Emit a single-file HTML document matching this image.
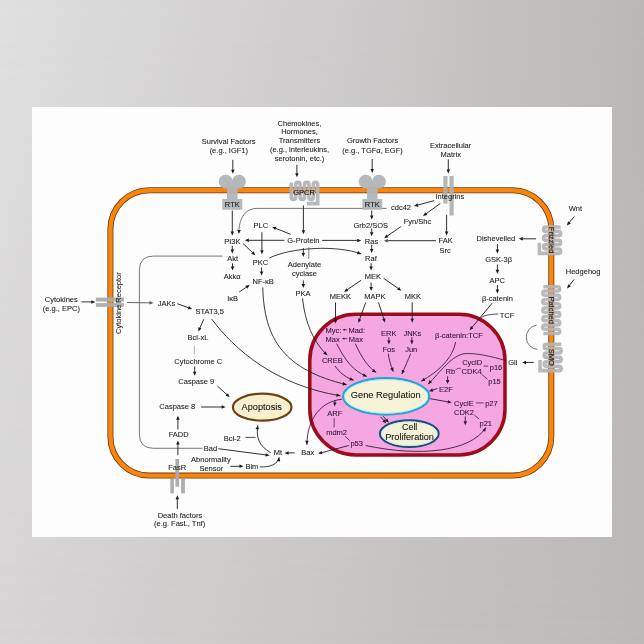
<!DOCTYPE html>
<html><head><meta charset="utf-8">
<style>
html,body{margin:0;padding:0;width:644px;height:644px;overflow:hidden;}
body{background:#d0cfcf;}
svg{position:absolute;left:0;top:0;will-change:transform;}
text{font-family:"Liberation Sans",sans-serif;stroke-width:0.08px;paint-order:fill;}
</style></head><body>
<svg width="644" height="644" viewBox="0 0 644 644">
<defs><linearGradient id="gtop" x1="0" y1="0" x2="1" y2="0"><stop offset="0" stop-color="#e0dfdf"/><stop offset="0.5" stop-color="#cecccc"/><stop offset="1" stop-color="#bab7b6"/></linearGradient><linearGradient id="gbot" x1="0" y1="0" x2="1" y2="0"><stop offset="0" stop-color="#d7d5d5"/><stop offset="0.5" stop-color="#c9c7c6"/><stop offset="1" stop-color="#bcb9b8"/></linearGradient><linearGradient id="gm" x1="0" y1="0" x2="0" y2="1"><stop offset="0" stop-color="#fff"/><stop offset="1" stop-color="#000"/></linearGradient><mask id="mk"><rect x="0" y="0" width="644" height="644" fill="url(#gm)"/></mask></defs>
<rect x="0" y="0" width="644" height="644" fill="url(#gbot)"/>
<rect x="0" y="0" width="644" height="644" fill="url(#gtop)" mask="url(#mk)"/>
<rect x="32" y="107" width="580" height="430" fill="#fdfdfd"/>
<rect x="110.4" y="190.3" width="440.9" height="285.3" rx="39" ry="39" fill="none" stroke="#6a3a10" stroke-width="6.0"/>
<rect x="110.4" y="190.3" width="440.9" height="285.3" rx="39" ry="39" fill="none" stroke="#f9840e" stroke-width="4.4"/>
<path d="M386.6,208.4 L257,208.4 C245,208.4 240,218 238.9,229.5" stroke="#555" stroke-width="0.8" fill="none"/>
<rect x="309.8" y="314.3" width="195.2" height="140.7" rx="46" ry="46" fill="#f4a7e0" stroke="#9c0c1c" stroke-width="3.5"/>
<g fill="#b3b6b9" opacity="0.95"><path d="M225.5,174.8 a6.8,6.8 0 1,0 0.001,0 Z M239.10000000000002,174.8 a6.8,6.8 0 1,0 0.001,0 Z"/><path d="M225.5,174.8 A6.8,6.8 0 0 0 227.0,186 L227.0,199.1 L222.3,199.1 L222.3,209.7 L242.3,209.7 L242.3,199.1 L237.60000000000002,199.1 L237.60000000000002,186 A6.8,6.8 0 0 0 239.10000000000002,174.8 A6.8,6.8 0 0 0 232.3,181 A6.8,6.8 0 0 0 225.5,174.8 Z"/></g>
<g fill="#b3b6b9" opacity="0.95"><path d="M365.5,174.8 a6.8,6.8 0 1,0 0.001,0 Z M379.1,174.8 a6.8,6.8 0 1,0 0.001,0 Z"/><path d="M365.5,174.8 A6.8,6.8 0 0 0 367.0,186 L367.0,199.1 L362.3,199.1 L362.3,209.7 L382.3,209.7 L382.3,199.1 L377.6,199.1 L377.6,186 A6.8,6.8 0 0 0 379.1,174.8 A6.8,6.8 0 0 0 372.3,181 A6.8,6.8 0 0 0 365.5,174.8 Z"/></g>
<g transform=""><path d="M291.30,182.40 L291.30,197.20 A2.2,2.2 0 0 0 295.70,197.20 L295.70,184.60 A2.2,2.2 0 0 1 300.10,184.60 L300.10,197.20 A2.2,2.2 0 0 0 304.50,197.20 L304.50,184.60 A2.2,2.2 0 0 1 308.90,184.60 L308.90,197.20 A2.2,2.2 0 0 0 313.30,197.20 L313.30,184.60 A2.2,2.2 0 0 1 317.70,184.60 L317.70,197.20 L317.70,203.6 L307,203.6" stroke="#b2b4b7" stroke-width="3.6" fill="none" opacity="0.93"/></g>
<g transform="translate(550.0,240.2) rotate(90) translate(-304.5,-193.0)"><path d="M291.30,182.40 L291.30,197.20 A2.2,2.2 0 0 0 295.70,197.20 L295.70,184.60 A2.2,2.2 0 0 1 300.10,184.60 L300.10,197.20 A2.2,2.2 0 0 0 304.50,197.20 L304.50,184.60 A2.2,2.2 0 0 1 308.90,184.60 L308.90,197.20 A2.2,2.2 0 0 0 313.30,197.20 L313.30,184.60 A2.2,2.2 0 0 1 317.70,184.60 L317.70,197.20 L317.70,203.6 L307,203.6" stroke="#b2b4b7" stroke-width="3.6" fill="none" opacity="0.93"/></g>
<text x="0" y="0" font-size="7.5" fill="#222" stroke="#222" text-anchor="middle" transform="translate(551.5,240.2) rotate(90) translate(0,2.7)">Frizzled</text>
<g transform="translate(550.6,357.4) rotate(90) translate(-304.5,-193.0)"><path d="M291.30,182.40 L291.30,197.20 A2.2,2.2 0 0 0 295.70,197.20 L295.70,184.60 A2.2,2.2 0 0 1 300.10,184.60 L300.10,197.20 A2.2,2.2 0 0 0 304.50,197.20 L304.50,184.60 A2.2,2.2 0 0 1 308.90,184.60 L308.90,197.20 A2.2,2.2 0 0 0 313.30,197.20 L313.30,184.60 A2.2,2.2 0 0 1 317.70,184.60 L317.70,197.20 L317.70,203.6 L307,203.6" stroke="#b2b4b7" stroke-width="3.6" fill="none" opacity="0.93"/></g>
<text x="0" y="0" font-size="7.5" fill="#222" stroke="#222" text-anchor="middle" transform="translate(552.1,357.4) rotate(90) translate(0,2.7)">SMO</text>
<path d="M543.40,286.80 L557.60,286.80 A2.12,2.12 0 0 1 557.60,291.05 L544.90,291.05 A2.12,2.12 0 0 0 544.90,295.30 L557.60,295.30 A2.12,2.12 0 0 1 557.60,299.55 L544.90,299.55 A2.12,2.12 0 0 0 544.90,303.80 L557.60,303.80 A2.12,2.12 0 0 1 557.60,308.05 L544.90,308.05 A2.12,2.12 0 0 0 544.90,312.30 L557.60,312.30 A2.12,2.12 0 0 1 557.60,316.55 L544.90,316.55 A2.12,2.12 0 0 0 544.90,320.80 L557.60,320.80 A2.12,2.12 0 0 1 557.60,325.05 L544.90,325.05 A2.12,2.12 0 0 0 544.90,329.30 L557.60,329.30 A2.12,2.12 0 0 1 557.60,333.55 L544.90,333.55 L543.40,333.55" stroke="#b2b4b7" stroke-width="3.4" fill="none" opacity="0.92"/>
<text x="0" y="0" font-size="7.5" fill="#222" stroke="#222" text-anchor="middle" transform="translate(551.4,310.2) rotate(90) translate(0,2.7)">Patched</text>
<g fill="#b0b0b0" opacity="0.92"><rect x="443.3" y="176" width="4.2" height="27.6"/><rect x="449.5" y="176" width="4.2" height="39.5"/></g>
<g fill="#acacac" opacity="0.95"><rect x="95.9" y="297.6" width="28" height="4"/><rect x="95.9" y="303.1" width="28" height="3.8"/></g>
<g fill="#aaaaaa" opacity="0.95"><rect x="175.4" y="459" width="3.7" height="27.7"/><rect x="170.3" y="478.6" width="3.6" height="14.8"/><rect x="181.1" y="478.6" width="3.8" height="14.8"/></g>
<ellipse cx="386.2" cy="396.4" rx="43.1" ry="18.3" fill="#f6f3d8" stroke="#2aa2d4" stroke-width="2.2"/>
<ellipse cx="386.2" cy="396.4" rx="41.6" ry="16.8" fill="none" stroke="#a8e6f2" stroke-width="0.9"/>
<ellipse cx="409.3" cy="433.7" rx="29.3" ry="13.3" fill="#f4f2d6" stroke="#1b4c7a" stroke-width="2.1"/>
<ellipse cx="409.3" cy="433.7" rx="27.9" ry="11.9" fill="none" stroke="#c4ecee" stroke-width="0.9"/>
<ellipse cx="262.2" cy="407.2" rx="29.3" ry="13.5" fill="#f6f0cf" stroke="#6b4416" stroke-width="2.2"/>
<path d="M232.80,159.80 L232.80,170.30" stroke="#1a1a1a" stroke-width="0.9" fill="none"/>
<path d="M232.80,173.80 L231.05,169.80 L234.55,169.80 Z" fill="#1a1a1a"/>
<path d="M296.90,164.70 L296.90,173.70" stroke="#1a1a1a" stroke-width="0.9" fill="none"/>
<path d="M296.90,177.20 L295.15,173.20 L298.65,173.20 Z" fill="#1a1a1a"/>
<path d="M372.20,159.00 L372.20,169.50" stroke="#1a1a1a" stroke-width="0.9" fill="none"/>
<path d="M372.20,173.00 L370.45,169.00 L373.95,169.00 Z" fill="#1a1a1a"/>
<path d="M448.30,159.30 L448.30,170.00" stroke="#1a1a1a" stroke-width="0.9" fill="none"/>
<path d="M448.30,173.50 L446.55,169.50 L450.05,169.50 Z" fill="#1a1a1a"/>
<path d="M232.30,210.50 L232.30,232.00" stroke="#1a1a1a" stroke-width="0.9" fill="none"/>
<path d="M232.30,235.50 L230.55,231.50 L234.05,231.50 Z" fill="#1a1a1a"/>
<path d="M238.80,233.90 L237.31,229.80 L240.80,230.02 Z" fill="#1a1a1a"/>
<path d="M290.60,234.30 L275.35,228.20" stroke="#1a1a1a" stroke-width="0.9" fill="none"/>
<path d="M272.10,226.90 L276.46,226.76 L275.16,230.01 Z" fill="#1a1a1a"/>
<path d="M284.30,240.30 L248.30,240.30" stroke="#1a1a1a" stroke-width="0.9" fill="none"/>
<path d="M244.80,240.30 L248.80,238.55 L248.80,242.05 Z" fill="#1a1a1a"/>
<path d="M261.90,232.20 L261.90,250.70" stroke="#1a1a1a" stroke-width="0.9" fill="none"/>
<path d="M261.90,254.20 L260.15,250.20 L263.65,250.20 Z" fill="#1a1a1a"/>
<path d="M242.90,243.40 L252.76,252.79" stroke="#1a1a1a" stroke-width="0.9" fill="none"/>
<path d="M255.30,255.20 L251.20,253.71 L253.61,251.17 Z" fill="#1a1a1a"/>
<path d="M232.30,245.90 L232.30,250.10" stroke="#1a1a1a" stroke-width="0.9" fill="none"/>
<path d="M232.30,253.60 L230.55,249.60 L234.05,249.60 Z" fill="#1a1a1a"/>
<path d="M222.7,256.1 L153.4,256.1 Q139.4,256.1 139.4,270.1 L139.4,434.3 Q139.4,448.3 153.4,448.3 L202.5,448.3" stroke="#555" stroke-width="0.8" fill="none" />
<path d="M232.50,263.30 L232.50,267.00" stroke="#1a1a1a" stroke-width="0.9" fill="none"/>
<path d="M232.50,270.50 L230.75,266.50 L234.25,266.50 Z" fill="#1a1a1a"/>
<path d="M261.60,267.60 L261.60,272.10" stroke="#1a1a1a" stroke-width="0.9" fill="none"/>
<path d="M261.60,275.60 L259.85,271.60 L263.35,271.60 Z" fill="#1a1a1a"/>
<path d="M239.20,292.00 L246.70,286.95" stroke="#1a1a1a" stroke-width="0.9" fill="none"/>
<path d="M249.60,285.00 L247.26,288.69 L245.30,285.78 Z" fill="#1a1a1a"/>
<path d="M303.40,205.40 L303.40,230.70" stroke="#1a1a1a" stroke-width="0.9" fill="none"/>
<path d="M303.40,234.20 L301.65,230.20 L305.15,230.20 Z" fill="#1a1a1a"/>
<path d="M322.20,240.40 L357.70,240.40" stroke="#1a1a1a" stroke-width="0.9" fill="none"/>
<path d="M361.20,240.40 L357.20,242.15 L357.20,238.65 Z" fill="#1a1a1a"/>
<path d="M303.30,248.00 L303.30,253.40" stroke="#1a1a1a" stroke-width="0.9" fill="none"/>
<path d="M303.30,256.90 L301.55,252.90 L305.05,252.90 Z" fill="#1a1a1a"/>
<path d="M308.8,247.4 L308.8,258.8" stroke="#777" stroke-width="0.9" fill="none" />
<path d="M269.4,258.0 C292,247 338,245 361.2,254.0" stroke="#1a1a1a" stroke-width="0.85" fill="none"/>
<path d="M361.20,254.00 L356.84,254.18 L358.10,250.92 Z" fill="#1a1a1a"/>
<path d="M303.30,280.30 L303.30,284.50" stroke="#1a1a1a" stroke-width="0.9" fill="none"/>
<path d="M303.30,288.00 L301.55,284.00 L305.05,284.00 Z" fill="#1a1a1a"/>
<path d="M302.5,298.3 C305,322 313,342 327.3,355.2" stroke="#1a1a1a" stroke-width="0.85" fill="none"/>
<path d="M327.30,355.20 L323.17,353.77 L325.55,351.20 Z" fill="#1a1a1a"/>
<path d="M371.70,210.50 L371.70,215.90" stroke="#1a1a1a" stroke-width="0.9" fill="none"/>
<path d="M371.70,219.40 L369.95,215.40 L373.45,215.40 Z" fill="#1a1a1a"/>
<path d="M371.70,228.50 L371.70,232.70" stroke="#1a1a1a" stroke-width="0.9" fill="none"/>
<path d="M371.70,236.20 L369.95,232.20 L373.45,232.20 Z" fill="#1a1a1a"/>
<path d="M400.90,226.60 L387.07,236.20" stroke="#1a1a1a" stroke-width="0.9" fill="none"/>
<path d="M384.20,238.20 L386.49,234.48 L388.48,237.36 Z" fill="#1a1a1a"/>
<path d="M436.00,240.70 L387.30,240.70" stroke="#555" stroke-width="1.3" fill="none"/>
<path d="M383.80,240.70 L387.80,238.95 L387.80,242.45 Z" fill="#555"/>
<path d="M371.70,244.70 L371.70,249.40" stroke="#1a1a1a" stroke-width="0.9" fill="none"/>
<path d="M371.70,252.90 L369.95,248.90 L373.45,248.90 Z" fill="#1a1a1a"/>
<path d="M371.10,263.20 L371.10,266.90" stroke="#1a1a1a" stroke-width="0.9" fill="none"/>
<path d="M371.10,270.40 L369.35,266.40 L372.85,266.40 Z" fill="#1a1a1a"/>
<path d="M361.10,280.30 L346.90,289.94" stroke="#1a1a1a" stroke-width="0.9" fill="none"/>
<path d="M344.00,291.90 L346.33,288.21 L348.29,291.10 Z" fill="#1a1a1a"/>
<path d="M371.10,282.60 L371.10,287.40" stroke="#1a1a1a" stroke-width="0.9" fill="none"/>
<path d="M371.10,290.90 L369.35,286.90 L372.85,286.90 Z" fill="#1a1a1a"/>
<path d="M383.60,278.30 L398.53,288.70" stroke="#1a1a1a" stroke-width="0.9" fill="none"/>
<path d="M401.40,290.70 L397.12,289.85 L399.12,286.98 Z" fill="#1a1a1a"/>
<path d="M434.20,200.60 L417.38,205.18" stroke="#1a1a1a" stroke-width="0.9" fill="none"/>
<path d="M414.00,206.10 L417.40,203.36 L418.32,206.74 Z" fill="#1a1a1a"/>
<path d="M440.40,203.40 L425.83,213.95" stroke="#1a1a1a" stroke-width="0.9" fill="none"/>
<path d="M423.00,216.00 L425.21,212.24 L427.27,215.07 Z" fill="#1a1a1a"/>
<path d="M446.60,214.90 L446.60,232.10" stroke="#1a1a1a" stroke-width="0.9" fill="none"/>
<path d="M446.60,235.60 L444.85,231.60 L448.35,231.60 Z" fill="#1a1a1a"/>
<path d="M574.30,216.50 L569.14,222.71" stroke="#1a1a1a" stroke-width="0.9" fill="none"/>
<path d="M566.90,225.40 L568.11,221.21 L570.80,223.44 Z" fill="#1a1a1a"/>
<path d="M536.10,238.80 L522.30,238.80" stroke="#1a1a1a" stroke-width="0.9" fill="none"/>
<path d="M518.80,238.80 L522.80,237.05 L522.80,240.55 Z" fill="#1a1a1a"/>
<path d="M497.40,244.00 L497.40,250.00" stroke="#1a1a1a" stroke-width="0.9" fill="none"/>
<path d="M497.40,253.50 L495.65,249.50 L499.15,249.50 Z" fill="#1a1a1a"/>
<path d="M497.40,264.50 L497.40,270.20" stroke="#1a1a1a" stroke-width="0.9" fill="none"/>
<path d="M497.40,273.70 L495.65,269.70 L499.15,269.70 Z" fill="#1a1a1a"/>
<path d="M497.40,285.00 L497.40,290.10" stroke="#1a1a1a" stroke-width="0.9" fill="none"/>
<path d="M497.40,293.60 L495.65,289.60 L499.15,289.60 Z" fill="#1a1a1a"/>
<path d="M574.10,279.40 L569.25,285.64" stroke="#1a1a1a" stroke-width="0.9" fill="none"/>
<path d="M567.10,288.40 L568.17,284.17 L570.94,286.32 Z" fill="#1a1a1a"/>
<path d="M536.7,325.1 A12.3,12.3 0 0 0 537.5,349.5" stroke="#555" stroke-width="0.8" fill="none" />
<path d="M533.70,362.40 L525.50,362.40" stroke="#1a1a1a" stroke-width="0.9" fill="none"/>
<path d="M522.00,362.40 L526.00,360.65 L526.00,364.15 Z" fill="#1a1a1a"/>
<path d="M81.60,301.90 L91.80,301.90" stroke="#1a1a1a" stroke-width="0.9" fill="none"/>
<path d="M95.30,301.90 L91.30,303.65 L91.30,300.15 Z" fill="#1a1a1a"/>
<path d="M127.00,302.50 L150.00,302.85" stroke="#555" stroke-width="0.9" fill="none"/>
<path d="M153.50,302.90 L149.47,304.59 L149.53,301.09 Z" fill="#555"/>
<path d="M177.40,303.70 L188.81,307.89" stroke="#1a1a1a" stroke-width="0.9" fill="none"/>
<path d="M192.10,309.10 L187.74,309.36 L188.95,306.08 Z" fill="#1a1a1a"/>
<path d="M203.80,319.20 L199.73,328.30" stroke="#1a1a1a" stroke-width="0.9" fill="none"/>
<path d="M198.30,331.50 L198.34,327.13 L201.53,328.56 Z" fill="#1a1a1a"/>
<path d="M211.7,319.1 C235,350 275,385 340.4,395.8" stroke="#1a1a1a" stroke-width="0.85" fill="none"/>
<path d="M340.40,395.80 L336.17,396.87 L336.74,393.42 Z" fill="#1a1a1a"/>
<path d="M194.3,345.6 L194.3,354.2" stroke="#999" stroke-width="0.8" fill="none" />
<path d="M194.70,366.60 L194.70,372.30" stroke="#1a1a1a" stroke-width="0.9" fill="none"/>
<path d="M194.70,375.80 L192.95,371.80 L196.45,371.80 Z" fill="#1a1a1a"/>
<path d="M217.30,386.00 L227.09,394.77" stroke="#1a1a1a" stroke-width="0.9" fill="none"/>
<path d="M229.70,397.10 L225.55,395.74 L227.89,393.13 Z" fill="#1a1a1a"/>
<path d="M201.10,407.00 L222.10,407.00" stroke="#1a1a1a" stroke-width="0.9" fill="none"/>
<path d="M225.60,407.00 L221.60,408.75 L221.60,405.25 Z" fill="#1a1a1a"/>
<path d="M177.90,429.50 L177.90,419.20" stroke="#1a1a1a" stroke-width="0.9" fill="none"/>
<path d="M177.90,415.70 L179.65,419.70 L176.15,419.70 Z" fill="#1a1a1a"/>
<path d="M177.90,455.10 L177.90,443.90" stroke="#1a1a1a" stroke-width="0.9" fill="none"/>
<path d="M177.90,440.40 L179.65,444.40 L176.15,444.40 Z" fill="#1a1a1a"/>
<path d="M177.30,508.90 L177.30,498.70" stroke="#1a1a1a" stroke-width="0.9" fill="none"/>
<path d="M177.30,495.20 L179.05,499.20 L175.55,499.20 Z" fill="#1a1a1a"/>
<path d="M245.3,437.4 L255.6,437.4" stroke="#222" stroke-width="0.8" fill="none" />
<path d="M218.30,448.70 L266.13,454.95" stroke="#1a1a1a" stroke-width="0.9" fill="none"/>
<path d="M269.60,455.40 L265.41,456.62 L265.86,453.15 Z" fill="#1a1a1a"/>
<path d="M270.7,452.6 C259,446 256,438 257.8,425.4" stroke="#1a1a1a" stroke-width="0.85" fill="none"/>
<path d="M257.80,425.40 L258.97,429.61 L255.50,429.11 Z" fill="#1a1a1a"/>
<path d="M294.70,452.90 L288.10,452.90" stroke="#1a1a1a" stroke-width="0.9" fill="none"/>
<path d="M284.60,452.90 L288.60,451.15 L288.60,454.65 Z" fill="#1a1a1a"/>
<path d="M230.30,466.30 L240.00,466.30" stroke="#1a1a1a" stroke-width="0.9" fill="none"/>
<path d="M243.50,466.30 L239.50,468.05 L239.50,464.55 Z" fill="#1a1a1a"/>
<path d="M259.8,466.9 C270,467.5 278,464 279.2,457.3" stroke="#1a1a1a" stroke-width="0.85" fill="none"/>
<path d="M279.20,457.30 L280.22,461.55 L276.77,460.93 Z" fill="#1a1a1a"/>
<path d="M262.8,287.4 C264,340 285,370 346.7,384.7" stroke="#1a1a1a" stroke-width="0.85" fill="none"/>
<path d="M346.70,384.70 L342.40,385.48 L343.21,382.07 Z" fill="#1a1a1a"/>
<path d="M348.80,445.50 L321.48,452.71" stroke="#331334" stroke-width="0.9" fill="none"/>
<path d="M318.10,453.60 L321.52,450.89 L322.41,454.27 Z" fill="#331334"/>
<path d="M341.8,399.3 C322,401 307,418 306.9,444.8" stroke="#331334" stroke-width="0.85" fill="none"/>
<path d="M306.90,444.80 L305.16,440.79 L308.66,440.81 Z" fill="#331334"/>
<path d="M335.00,400.20 L334.82,403.01" stroke="#331334" stroke-width="0.9" fill="none"/>
<path d="M334.60,406.50 L333.11,402.40 L336.60,402.62 Z" fill="#331334"/>
<path d="M334.1,418.2 L334.1,427.3" stroke="#331334" stroke-width="0.7" fill="none" />
<path d="M345.2,436.1 L349.8,440.8" stroke="#331334" stroke-width="0.7" fill="none" />
<path d="M365.6,445.5 C420,457 470,452 486.0,427.5" stroke="#331334" stroke-width="0.85" fill="none"/>
<path d="M486.00,427.50 L485.28,431.81 L482.35,429.89 Z" fill="#331334"/>
<path d="M335.50,302.40 L335.50,320.10" stroke="#1a1a1a" stroke-width="0.9" fill="none"/>
<path d="M335.50,323.60 L333.75,319.60 L337.25,319.60 Z" fill="#1a1a1a"/>
<path d="M365.80,302.40 L359.51,319.51" stroke="#1a1a1a" stroke-width="0.9" fill="none"/>
<path d="M358.30,322.80 L358.04,318.44 L361.32,319.65 Z" fill="#1a1a1a"/>
<path d="M378.50,302.40 L383.92,319.17" stroke="#1a1a1a" stroke-width="0.9" fill="none"/>
<path d="M385.00,322.50 L382.10,319.23 L385.43,318.16 Z" fill="#1a1a1a"/>
<path d="M412.20,302.40 L412.20,319.30" stroke="#1a1a1a" stroke-width="0.9" fill="none"/>
<path d="M412.20,322.80 L410.45,318.80 L413.95,318.80 Z" fill="#1a1a1a"/>
<path d="M347.20,329.80 L344.30,329.80" stroke="#331334" stroke-width="0.7" fill="none"/>
<path d="M342.60,329.80 L344.80,328.80 L344.80,330.80 Z" fill="#331334"/>
<path d="M347.20,338.60 L343.90,338.60" stroke="#331334" stroke-width="0.7" fill="none"/>
<path d="M342.00,338.60 L344.40,337.50 L344.40,339.70 Z" fill="#331334"/>
<path d="M336.6,343.6 C345,360 353,371 366.9,376.4" stroke="#331334" stroke-width="0.85" fill="none"/>
<path d="M366.90,376.40 L362.54,376.58 L363.81,373.32 Z" fill="#331334"/>
<path d="M355.2,343.6 C362,358 368,367 376.2,372.5" stroke="#331334" stroke-width="0.85" fill="none"/>
<path d="M376.20,372.50 L371.90,371.73 L373.85,368.82 Z" fill="#331334"/>
<path d="M335.0,366.0 C340,373 345,377 353.7,380.2" stroke="#331334" stroke-width="0.85" fill="none"/>
<path d="M353.70,380.20 L349.34,380.46 L350.55,377.18 Z" fill="#331334"/>
<path d="M388.90,337.20 L388.90,340.90" stroke="#331334" stroke-width="0.9" fill="none"/>
<path d="M388.90,344.40 L387.15,340.40 L390.65,340.40 Z" fill="#331334"/>
<path d="M411.90,337.20 L411.90,340.90" stroke="#331334" stroke-width="0.9" fill="none"/>
<path d="M411.90,344.40 L410.15,340.40 L413.65,340.40 Z" fill="#331334"/>
<path d="M388.3,353.7 C389,360 391,366 393.3,371.7" stroke="#331334" stroke-width="0.85" fill="none"/>
<path d="M393.30,371.70 L390.18,368.65 L393.43,367.34 Z" fill="#331334"/>
<path d="M410.7,353.7 C408,360 405,367 401.8,374.1" stroke="#331334" stroke-width="0.85" fill="none"/>
<path d="M401.80,374.10 L401.85,369.73 L405.04,371.17 Z" fill="#331334"/>
<path d="M492.10,303.20 L471.84,327.61" stroke="#1a1a1a" stroke-width="0.9" fill="none"/>
<path d="M469.60,330.30 L470.81,326.10 L473.50,328.34 Z" fill="#1a1a1a"/>
<path d="M498.3,314 C490,314.3 485,315 481.2,317.6" stroke="#222" stroke-width="0.8" fill="none" />
<path d="M455.5,342.0 C453,358 438,372 421.1,381.2" stroke="#331334" stroke-width="0.85" fill="none"/>
<path d="M421.10,381.20 L423.78,377.75 L425.45,380.82 Z" fill="#331334"/>
<path d="M506,360.6 C490,356 476,353 465,353.6 C452,355 440,372 428.2,384.3" stroke="#331334" stroke-width="0.8" fill="none"/>
<path d="M428.20,384.30 L429.43,380.11 L432.11,382.36 Z" fill="#331334"/>
<path d="M483.6,366.1 L488.2,366.1" stroke="#331334" stroke-width="0.7" fill="none" />
<path d="M481.2,373.9 L487.5,379.3" stroke="#331334" stroke-width="0.7" fill="none" />
<path d="M455.5,370 L458,368.3 L461.2,368.3" stroke="#331334" stroke-width="0.6" fill="none" />
<path d="M447.60,376.30 L447.60,380.50" stroke="#331334" stroke-width="0.9" fill="none"/>
<path d="M447.60,384.00 L445.85,380.00 L449.35,380.00 Z" fill="#331334"/>
<path d="M437.40,388.50 L432.32,390.19" stroke="#331334" stroke-width="0.9" fill="none"/>
<path d="M429.00,391.30 L432.24,388.37 L433.35,391.70 Z" fill="#331334"/>
<path d="M430.10,398.70 L448.36,401.98" stroke="#331334" stroke-width="0.9" fill="none"/>
<path d="M451.80,402.60 L447.55,403.61 L448.17,400.17 Z" fill="#331334"/>
<path d="M475.9,402.9 L483.7,402.9" stroke="#331334" stroke-width="0.7" fill="none" />
<path d="M465.30,416.60 L465.30,421.80" stroke="#331334" stroke-width="0.9" fill="none"/>
<path d="M465.30,425.30 L463.55,421.30 L467.05,421.30 Z" fill="#331334"/>
<path d="M474.3,415.0 L479.0,418.9" stroke="#331334" stroke-width="0.7" fill="none" />
<path d="M380.60,416.80 L383.94,420.73" stroke="#331334" stroke-width="0.9" fill="none"/>
<path d="M386.20,423.40 L382.28,421.48 L384.95,419.22 Z" fill="#331334"/>
<path d="M383.20,416.20 L386.54,420.13" stroke="#331334" stroke-width="0.9" fill="none"/>
<path d="M388.80,422.80 L384.88,420.88 L387.55,418.62 Z" fill="#331334"/>
<text x="228.6" y="144.1" font-size="7.5" fill="#222" stroke="#222" text-anchor="middle" >Survival Factors</text>
<text x="228.8" y="153.4" font-size="7.5" fill="#222" stroke="#222" text-anchor="middle" >(e.g., IGF1)</text>
<text x="299.5" y="125.6" font-size="7.5" fill="#222" stroke="#222" text-anchor="middle" >Chemokines,</text>
<text x="299.5" y="134.4" font-size="7.5" fill="#222" stroke="#222" text-anchor="middle" >Hormones,</text>
<text x="299.5" y="143.0" font-size="7.5" fill="#222" stroke="#222" text-anchor="middle" >Transmitters</text>
<text x="299.5" y="152.0" font-size="7.5" fill="#222" stroke="#222" text-anchor="middle" >(e.g., interleukins,</text>
<text x="299.5" y="161.2" font-size="7.5" fill="#222" stroke="#222" text-anchor="middle" >serotonin, etc.)</text>
<text x="372.6" y="143.4" font-size="7.5" fill="#222" stroke="#222" text-anchor="middle" >Growth Factors</text>
<text x="372.5" y="152.8" font-size="7.5" fill="#222" stroke="#222" text-anchor="middle" >(e.g., TGFα, EGF)</text>
<text x="450.6" y="148.1" font-size="7.5" fill="#222" stroke="#222" text-anchor="middle" >Extracellular</text>
<text x="450.7" y="157.2" font-size="7.5" fill="#222" stroke="#222" text-anchor="middle" >Matrix</text>
<text x="449.9" y="199.4" font-size="7.5" fill="#222" stroke="#222" text-anchor="middle" >Integrins</text>
<text x="401.0" y="210.4" font-size="7.5" fill="#222" stroke="#222" text-anchor="middle" >cdc42</text>
<text x="260.9" y="228.0" font-size="7.5" fill="#222" stroke="#222" text-anchor="middle" >PLC</text>
<text x="370.8" y="227.7" font-size="7.5" fill="#222" stroke="#222" text-anchor="middle" >Grb2/SOS</text>
<text x="417.5" y="223.8" font-size="7.5" fill="#222" stroke="#222" text-anchor="middle" >Fyn/Shc</text>
<text x="232.4" y="243.6" font-size="7.5" fill="#222" stroke="#222" text-anchor="middle" >PI3K</text>
<text x="303.4" y="243.1" font-size="7.5" fill="#222" stroke="#222" text-anchor="middle" >G-Protein</text>
<text x="371.5" y="243.6" font-size="7.5" fill="#222" stroke="#222" text-anchor="middle" >Ras</text>
<text x="445.6" y="243.3" font-size="7.5" fill="#222" stroke="#222" text-anchor="middle" >FAK</text>
<text x="445.2" y="252.6" font-size="7.5" fill="#222" stroke="#222" text-anchor="middle" >Src</text>
<text x="575.3" y="211.3" font-size="7.5" fill="#222" stroke="#222" text-anchor="middle" >Wnt</text>
<text x="495.9" y="241.1" font-size="7.5" fill="#222" stroke="#222" text-anchor="middle" >Dishevelled</text>
<text x="232.7" y="260.9" font-size="7.5" fill="#222" stroke="#222" text-anchor="middle" >Akt</text>
<text x="260.4" y="265.0" font-size="7.5" fill="#222" stroke="#222" text-anchor="middle" >PKC</text>
<text x="370.9" y="260.6" font-size="7.5" fill="#222" stroke="#222" text-anchor="middle" >Raf</text>
<text x="498.6" y="262.1" font-size="7.5" fill="#222" stroke="#222" text-anchor="middle" >GSK-3β</text>
<text x="304.5" y="267.0" font-size="7.5" fill="#222" stroke="#222" text-anchor="middle" >Adenylate</text>
<text x="304.5" y="275.6" font-size="7.5" fill="#222" stroke="#222" text-anchor="middle" >cyclase</text>
<text x="232.1" y="278.9" font-size="7.5" fill="#222" stroke="#222" text-anchor="middle" >Akkα</text>
<text x="373.0" y="279.1" font-size="7.5" fill="#222" stroke="#222" text-anchor="middle" >MEK</text>
<text x="263.2" y="283.9" font-size="7.5" fill="#222" stroke="#222" text-anchor="middle" >NF-κB</text>
<text x="497.3" y="282.6" font-size="7.5" fill="#222" stroke="#222" text-anchor="middle" >APC</text>
<text x="583.1" y="274.2" font-size="7.5" fill="#222" stroke="#222" text-anchor="middle" >Hedgehog</text>
<text x="303.0" y="295.6" font-size="7.5" fill="#222" stroke="#222" text-anchor="middle" >PKA</text>
<text x="340.5" y="298.8" font-size="7.5" fill="#222" stroke="#222" text-anchor="middle" >MEKK</text>
<text x="375.0" y="298.8" font-size="7.5" fill="#222" stroke="#222" text-anchor="middle" >MAPK</text>
<text x="413.0" y="298.8" font-size="7.5" fill="#222" stroke="#222" text-anchor="middle" >MKK</text>
<text x="497.4" y="300.6" font-size="7.5" fill="#222" stroke="#222" text-anchor="middle" >β-catenin</text>
<text x="232.7" y="301.0" font-size="7.5" fill="#222" stroke="#222" text-anchor="middle" >IκB</text>
<text x="61.3" y="301.5" font-size="7.5" fill="#222" stroke="#222" text-anchor="middle" >Cytokines</text>
<text x="61.4" y="310.9" font-size="7.5" fill="#222" stroke="#222" text-anchor="middle" >(e.g., EPC)</text>
<text x="166.5" y="305.6" font-size="7.5" fill="#222" stroke="#222" text-anchor="middle" >JAKs</text>
<text x="209.8" y="314.2" font-size="7.5" fill="#222" stroke="#222" text-anchor="middle" >STAT3,5</text>
<text x="507.0" y="318.4" font-size="7.5" fill="#222" stroke="#222" text-anchor="middle" >TCF</text>
<text x="197.9" y="340.3" font-size="7.5" fill="#222" stroke="#222" text-anchor="middle" >Bcl-xL</text>
<text x="198.2" y="363.9" font-size="7.5" fill="#222" stroke="#222" text-anchor="middle" >Cytochrome C</text>
<text x="196.3" y="384.1" font-size="7.5" fill="#222" stroke="#222" text-anchor="middle" >Caspase 9</text>
<text x="512.8" y="364.9" font-size="7.5" fill="#222" stroke="#222" text-anchor="middle" >Gli</text>
<text x="177.3" y="409.4" font-size="7.5" fill="#222" stroke="#222" text-anchor="middle" >Caspase 8</text>
<text x="178.7" y="437.3" font-size="7.5" fill="#222" stroke="#222" text-anchor="middle" >FADD</text>
<text x="232.2" y="440.8" font-size="7.5" fill="#222" stroke="#222" text-anchor="middle" >Bcl-2</text>
<text x="210.5" y="450.8" font-size="7.5" fill="#222" stroke="#222" text-anchor="middle" >Bad</text>
<text x="278.0" y="455.3" font-size="7.5" fill="#222" stroke="#222" text-anchor="middle" >Mt</text>
<text x="307.8" y="455.0" font-size="7.5" fill="#222" stroke="#222" text-anchor="middle" >Bax</text>
<text x="210.9" y="462.4" font-size="7.5" fill="#222" stroke="#222" text-anchor="middle" >Abnormality</text>
<text x="211.3" y="470.7" font-size="7.5" fill="#222" stroke="#222" text-anchor="middle" >Sensor</text>
<text x="251.9" y="468.9" font-size="7.5" fill="#222" stroke="#222" text-anchor="middle" >Bim</text>
<text x="177.2" y="469.8" font-size="7.5" fill="#222" stroke="#222" text-anchor="middle" >FasR</text>
<text x="180.0" y="517.5" font-size="7.5" fill="#222" stroke="#222" text-anchor="middle" >Death factors</text>
<text x="179.6" y="525.6" font-size="7.5" fill="#222" stroke="#222" text-anchor="middle" >(e.g. FasL, Tnf)</text>
<text x="0" y="0" font-size="7.5" fill="#222" stroke="#222" text-anchor="middle" transform="translate(118.3,303.1) rotate(-90) translate(0,2.7)">Cytokine Receptor</text>
<text x="333.5" y="333.1" font-size="7.5" fill="#331334" stroke="#331334" text-anchor="middle" >Myc:</text>
<text x="356.8" y="333.1" font-size="7.5" fill="#331334" stroke="#331334" text-anchor="middle" >Mad:</text>
<text x="332.7" y="341.6" font-size="7.5" fill="#331334" stroke="#331334" text-anchor="middle" >Max</text>
<text x="355.9" y="341.6" font-size="7.5" fill="#331334" stroke="#331334" text-anchor="middle" >Max</text>
<text x="388.7" y="335.7" font-size="7.5" fill="#331334" stroke="#331334" text-anchor="middle" >ERK</text>
<text x="412.4" y="335.7" font-size="7.5" fill="#331334" stroke="#331334" text-anchor="middle" >JNKs</text>
<text x="458.9" y="338.3" font-size="7.5" fill="#331334" stroke="#331334" text-anchor="middle" >β-catenin:TCF</text>
<text x="388.8" y="351.7" font-size="7.5" fill="#331334" stroke="#331334" text-anchor="middle" >Fos</text>
<text x="411.2" y="351.7" font-size="7.5" fill="#331334" stroke="#331334" text-anchor="middle" >Jun</text>
<text x="332.3" y="363.4" font-size="7.5" fill="#331334" stroke="#331334" text-anchor="middle" >CREB</text>
<text x="472.2" y="365.2" font-size="7.5" fill="#331334" stroke="#331334" text-anchor="middle" >CyclD</text>
<text x="496.0" y="369.6" font-size="7.5" fill="#331334" stroke="#331334" text-anchor="middle" >p16</text>
<text x="450.4" y="373.7" font-size="7.5" fill="#331334" stroke="#331334" text-anchor="middle" >Rb</text>
<text x="471.6" y="373.5" font-size="7.5" fill="#331334" stroke="#331334" text-anchor="middle" >CDK4</text>
<text x="494.5" y="384.3" font-size="7.5" fill="#331334" stroke="#331334" text-anchor="middle" >p15</text>
<text x="445.9" y="392.1" font-size="7.5" fill="#331334" stroke="#331334" text-anchor="middle" >E2F</text>
<text x="463.9" y="405.8" font-size="7.5" fill="#331334" stroke="#331334" text-anchor="middle" >CyclE</text>
<text x="491.4" y="405.8" font-size="7.5" fill="#331334" stroke="#331334" text-anchor="middle" >p27</text>
<text x="464.0" y="414.7" font-size="7.5" fill="#331334" stroke="#331334" text-anchor="middle" >CDK2</text>
<text x="485.8" y="425.5" font-size="7.5" fill="#331334" stroke="#331334" text-anchor="middle" >p21</text>
<text x="334.8" y="415.9" font-size="7.5" fill="#331334" stroke="#331334" text-anchor="middle" >ARF</text>
<text x="336.6" y="434.9" font-size="7.5" fill="#331334" stroke="#331334" text-anchor="middle" >mdm2</text>
<text x="356.7" y="446.2" font-size="7.5" fill="#331334" stroke="#331334" text-anchor="middle" >p53</text>
<text x="232.3" y="206.8" font-size="7.5" fill="#151515" stroke="#151515" text-anchor="middle" >RTK</text>
<text x="372.3" y="206.8" font-size="7.5" fill="#151515" stroke="#151515" text-anchor="middle" >RTK</text>
<text x="304.0" y="194.8" font-size="7.5" fill="#111" stroke="#111" text-anchor="middle" >GPCR</text>
<text x="385.7" y="398.0" font-size="9.3" fill="#151515" stroke="#151515" text-anchor="middle" >Gene Regulation</text>
<text x="261.8" y="409.9" font-size="9.2" fill="#151515" stroke="#151515" text-anchor="middle" >Apoptosis</text>
<text x="409.7" y="429.7" font-size="8.9" fill="#151515" stroke="#151515" text-anchor="middle" >Cell</text>
<text x="409.6" y="440.3" font-size="9.15" fill="#151515" stroke="#151515" text-anchor="middle" >Proliferation</text>
</svg></body></html>
